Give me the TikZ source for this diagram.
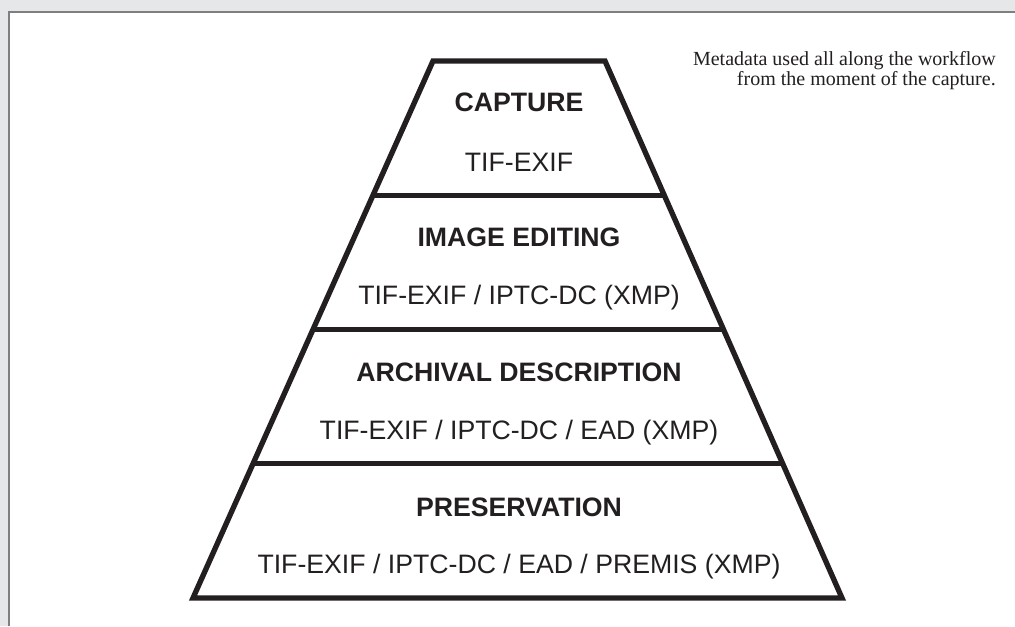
\documentclass[tikz,border=0pt]{standalone}
\usepackage{fontspec}
\setmainfont{Liberation Serif}
\setsansfont{Liberation Sans}
\usetikzlibrary{calc}
\definecolor{panelbg}{HTML}{E6E7E8}
\definecolor{panelrule}{HTML}{7F7F7F}
\definecolor{ink}{HTML}{231F20}

\begin{document}
\begin{tikzpicture}[x=0.75pt,y=-0.75pt,
        pyramid/.style={draw=ink,line width=4pt,line join=miter},
        level/.style={text=ink,font=\sffamily\fontsize{20}{24}\selectfont},
        leveltitle/.style={text=ink,font=\sffamily\bfseries\fontsize{20}{24}\selectfont},
        note/.style={text=ink,font=\fontsize{15}{13.5}\selectfont,align=right,
            anchor=base east,inner sep=0pt}]
        \useasboundingbox (0,0) rectangle (1015,626);

        % Page background and panel
        \fill [panelbg] (0,0) rectangle (1015,626);
        \fill [white] (9,12) rectangle (1015,626);
        \draw [panelrule,line width=0.9pt] (9,626) -- (9,12) -- (1015,12);

        % Pyramid corners
        \coordinate (tl) at (433,61);
        \coordinate (tr) at (605,61);
        \coordinate (bl) at (193,598);
        \coordinate (br) at (842,598);

        % Pyramid outline and layers
        \draw [pyramid] (tl) -- (tr) -- (br) -- (bl) -- cycle;
        \foreach \f in {0.25,0.5,0.75}
            \draw [pyramid] ($(tl)!\f!(bl)$) -- ($(tr)!\f!(br)$);

        % Layer texts
        \node [leveltitle] (capture) at (519,102) {CAPTURE};
        \node [level] (captureformats) at (519,162) {TIF-EXIF};
        \node [leveltitle] (editing) at (519,237) {IMAGE EDITING};
        \node [level] (editingformats) at (519,298) {TIF-EXIF / IPTC-DC (XMP)};
        \node [leveltitle] (archival) at (519,372) {ARCHIVAL DESCRIPTION};
        \node [level] (archivalformats) at (519,433) {TIF-EXIF / IPTC-DC / EAD (XMP)};
        \node [leveltitle] (preservation) at (519,507) {PRESERVATION};
        \node [level] (preservationformats) at (519,567) {TIF-EXIF / IPTC-DC / EAD / PREMIS (XMP)};

        % Side note
        \node [note] (workflow) at (996,85)
            {Metadata used all along the workflow\\from the moment of the capture.};
    \end{tikzpicture}
\end{document}
